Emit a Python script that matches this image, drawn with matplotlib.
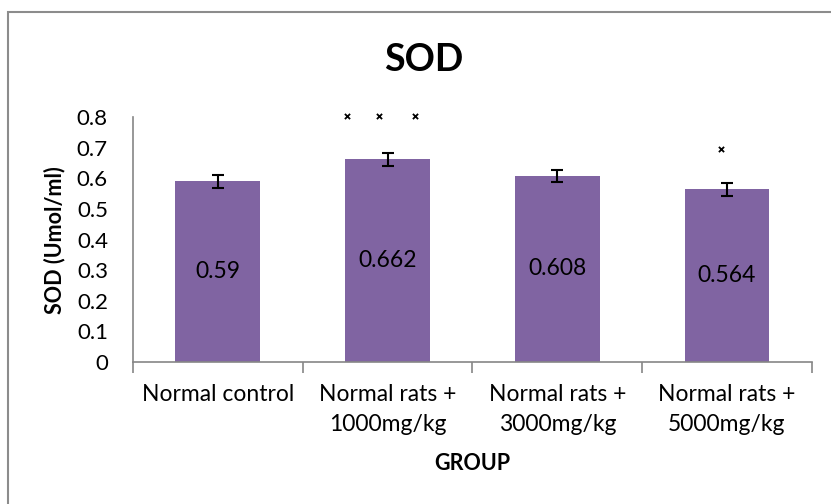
import matplotlib
matplotlib.use('Agg')

import matplotlib.pyplot as plt
import matplotlib.patches as mpatches
import numpy as np

plt.rcParams['font.family'] = ['Lato', 'DejaVu Sans']

# data
groups = ['Normal control', 'Normal rats +\n1000mg/kg',
          'Normal rats +\n3000mg/kg', 'Normal rats +\n5000mg/kg']
sod_values = [0.59, 0.662, 0.608, 0.564]
sod_errors = [0.02, 0.021, 0.02, 0.021]
value_labels = ['0.59', '0.662', '0.608', '0.564']

# significance marks (x in category units, y in data units)
mark_x = [0.76, 0.95, 1.16, 2.965]
mark_y = [0.803, 0.803, 0.803, 0.697]

bar_color = '#8064A2'
axis_gray = '#868686'

fig = plt.figure(figsize=(8.31, 5.04), dpi=100)
ax = fig.add_axes([0.160, 0.2817, 0.817, 0.486])

x = np.arange(len(groups))
ax.bar(x, sod_values, width=0.5, color=bar_color, zorder=2)
ax.errorbar(x, sod_values, yerr=sod_errors, fmt='none', ecolor='black',
            elinewidth=1.5, capsize=4, capthick=1.5, zorder=3)

for xi, val, lab in zip(x, sod_values, value_labels):
    ax.text(xi, val / 2, lab, ha='center', va='center', fontsize=16.5)

ax.scatter(mark_x, mark_y, marker='x', s=14, color='black', linewidths=1.3,
           clip_on=False, zorder=4)

ax.set_xlim(-0.5, len(groups) - 0.5)
ax.set_ylim(0, 0.8)
ax.set_yticks(np.arange(0, 0.81, 0.1))
ax.set_yticklabels(['0'] + ['%.1f' % v for v in np.arange(0.1, 0.81, 0.1)])
ax.tick_params(axis='y', length=0, labelsize=16, pad=18)

# category boundaries get the tick marks, names sit in between
ax.set_xticks(np.arange(-0.5, len(groups), 1.0))
ax.set_xticklabels([])
ax.tick_params(axis='x', which='major', length=8, color=axis_gray, width=1.2)
ax.set_xticks(x, minor=True)
ax.set_xticklabels(groups, minor=True, fontsize=16.5, linespacing=1.5)
ax.tick_params(axis='x', which='minor', length=0, pad=16)

for side in ['top', 'right']:
    ax.spines[side].set_visible(False)
for side in ['left', 'bottom']:
    ax.spines[side].set_color(axis_gray)
    ax.spines[side].set_linewidth(1.2)

# axis titles placed where the original chart has them
fig.text(55 / 831, 1 - 240 / 504, 'SOD (Umol/ml)', rotation=90,
         ha='center', va='center', fontsize=15.5, fontweight='bold')
fig.text(472 / 831, 1 - 463 / 504, 'GROUP', ha='center', va='center',
         fontsize=15.5, fontweight='bold')

fig.text(0.510, 0.881, 'SOD', ha='center', va='center', fontsize=27,
         fontweight='bold')

# chart area border (runs off the right and bottom edge)
fig.patches.append(mpatches.Rectangle((8 / 831, -0.1), 1.2, 0.1 + 1 - 12 / 504,
                                      transform=fig.transFigure, fill=False,
                                      edgecolor='#8c8c8c', linewidth=1.5))

fig.savefig('out.png', dpi=100)
